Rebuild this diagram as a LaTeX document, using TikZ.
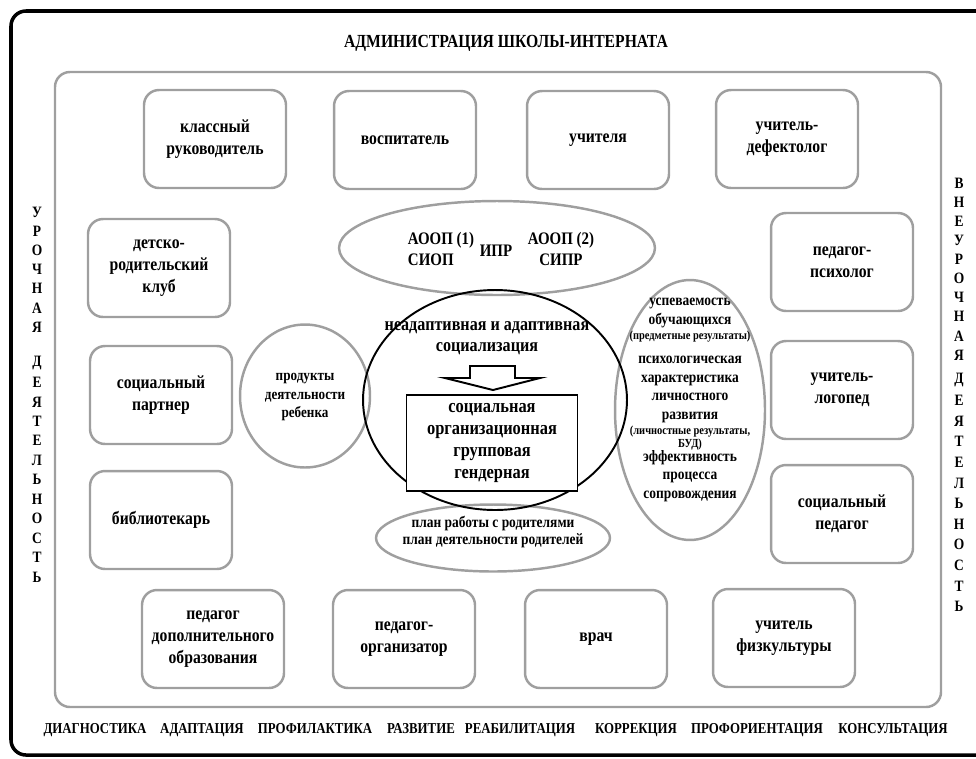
\documentclass[tikz,border=0pt]{standalone}
\usepackage{fontspec}
\setmainfont{Liberation Serif}[FakeStretch=0.85]
\usetikzlibrary{shapes.geometric}

\begin{document}
\begin{tikzpicture}[x=0.02cm,y=-0.02cm,
    every node/.style={font=\bfseries},
    rolebox/.style={draw=gray!75, line width=1.4pt, rounded corners=0.3cm,
      minimum width=2.84cm, minimum height=1.96cm, align=center,
      font=\fontsize{10.5}{12.5}\selectfont\bfseries},
    grayoval/.style={draw=gray!75, line width=1.4pt, ellipse, inner sep=0pt},
    sidelet/.style={font=\fontsize{9}{9}\selectfont\bfseries, inner sep=0pt},
    bottomword/.style={font=\fontsize{8.6}{9}\selectfont\bfseries, inner sep=0pt, anchor=base},
    smalltxt/.style={align=center, font=\fontsize{8.8}{10.8}\selectfont\bfseries}]

	\useasboundingbox (0,0) rectangle (976,758);

	% outer frame
	\draw[line width=2pt, rounded corners=0.3cm] (1000,11) -- (11,11) -- (11,755) -- (1000,755);
	\node (title) at (506,43) {\fontsize{10.5}{10.5}\selectfont АДМИНИСТРАЦИЯ ШКОЛЫ-ИНТЕРНАТА};

	% gray container
	\draw[draw=gray!75, line width=1.4pt, rounded corners=0.3cm] (55,72) rectangle (941,707);

	% roles
	\node[rolebox] (klass)   at (215,139) {классный\\руководитель};
	\node[rolebox] (vosp)    at (405,140) {воспитатель};
	\node[rolebox] (uchit)   at (598,140) {учителя};
	\node[rolebox] (defekt)  at (787,139) {учитель-\\дефектолог};
	\node[rolebox] (klub)    at (159,268) {детско-\\родительский\\клуб};
	\node[rolebox] (partner) at (161,395) {социальный\\партнер};
	\node[rolebox] (bibl)    at (161,520) {библиотекарь};
	\node[rolebox] (psych)   at (842,262) {педагог-\\психолог};
	\node[rolebox] (logoped) at (842,390) {учитель-\\логопед};
	\node[rolebox] (socped)  at (842,514) {социальный\\педагог};
	\node[rolebox] (dopobr)  at (213,639) {педагог\\дополнительного\\образования};
	\node[rolebox] (orgz)    at (404,639) {педагог-\\организатор};
	\node[rolebox] (vrach)   at (596,639) {врач};
	\node[rolebox] (fizra)   at (784,638) {учитель\\физкультуры};

	% ovals
	\node[grayoval, minimum width=6.32cm, minimum height=1.88cm] (aoop) at (497,248) {};
	\node[align=left, font=\fontsize{10}{12.5}\selectfont\bfseries] (aoopL) at (441,249) {АООП (1)\\СИОП};
	\node[font=\fontsize{10}{10}\selectfont\bfseries] (ipr) at (496,251) {ИПР};
	\node[align=center, font=\fontsize{10}{12.5}\selectfont\bfseries] (aoopR) at (561,249) {АООП (2)\\СИПР};

	\node[grayoval, minimum width=2.6cm, minimum height=2.86cm] (prod) at (305,396) {};
	\node[smalltxt] (prodtxt) at (305,397) {продукты\\деятельности\\ребенка};

	\node[grayoval, minimum width=3cm, minimum height=5.2cm] (result) at (690,410) {};
	\node[align=center, font=\fontsize{9}{10.6}\selectfont\bfseries] (resulttxt) at (690,400)
		{успеваемость\\обучающихся\\[-2pt]{\fontsize{7}{7}\selectfont(предметные результаты)}\\[3pt]
		 психологическая\\характеристика\\личностного\\развития\\[-2pt]
		 {\fontsize{7}{7}\selectfont(личностные результаты,}\\[-3pt]{\fontsize{7}{7}\selectfont БУД)}\\[-3pt]
		 эффективность\\процесса\\сопровождения};

	\node[grayoval, minimum width=4.68cm, minimum height=1.34cm] (plan) at (493,538) {};
	\node[smalltxt, font=\fontsize{9}{9.8}\selectfont\bfseries] (plantxt) at (493,532) {план работы с родителями\\план деятельности родителей};

	% centre
	\node[draw, ellipse, line width=1.1pt, minimum width=5.28cm, minimum height=4.4cm] (soc) at (495,400) {};
	\node[align=center, font=\fontsize{10.8}{12}\selectfont\bfseries] (soctxt) at (487,338) {неадаптивная и адаптивная\\социализация};
	\draw[line width=1.1pt, fill=white] (470,366) -- (515,366) -- (515,378) -- (540,378) -- (493,390) -- (445,378) -- (470,378) -- cycle;
	\node[draw, line width=1.1pt, fill=white, minimum width=3.42cm, minimum height=1.92cm, align=center,
		font=\fontsize{11}{12.4}\selectfont\bfseries] (kinds) at (492,443) {социальная\\организационная\\групповая\\гендерная};

	% side letters
	\foreach \ch [count=\i from 0] in {У,Р,О,Ч,Н,А,Я}
		\node[sidelet] (lu\i) at (37,{212+19.2*\i}) {\ch};
	\foreach \ch [count=\i from 0] in {Д,Е,Я,Т,Е,Л,Ь,Н,О,С,Т,Ь}
		\node[sidelet] (ld\i) at (37,{363+19.45*\i}) {\ch};
	\foreach \ch [count=\i from 0] in {В,Н,Е,У,Р,О,Ч,Н,А,Я}
		\node[sidelet] (ru\i) at (959,{183+19.1*\i}) {\ch};
	\foreach \ch [count=\i from 0] in {Д,Е,Я,Т,Е,Л,Ь,Н,О,С,Т,Ь}
		\node[sidelet] (rd\i) at (959,{380+20.6*\i}) {\ch};

	% bottom line
	\foreach \w/\x [count=\i] in {ДИАГНОСТИКА/95, АДАПТАЦИЯ/202, ПРОФИЛАКТИКА/315, РАЗВИТИЕ/421,
		РЕАБИЛИТАЦИЯ/520, КОРРЕКЦИЯ/636, ПРОФОРИЕНТАЦИЯ/757, КОНСУЛЬТАЦИЯ/893}
		\node[bottomword] (w\i) at (\x,733) {\w};
\end{tikzpicture}
\end{document}
